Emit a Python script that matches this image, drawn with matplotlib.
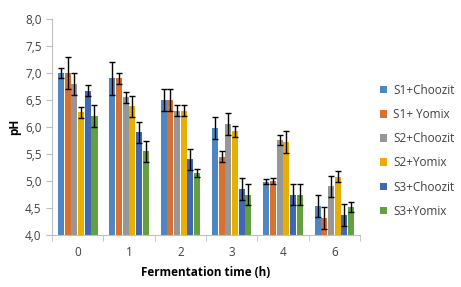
import matplotlib
matplotlib.use("Agg")
import matplotlib.pyplot as plt
import numpy as np

times = ["0", "1", "2", "3", "4", "6"]
series = ["S1+Choozit", "S1+ Yomix", "S2+Choozit", "S2+Yomix", "S3+Choozit", "S3+Yomix"]
colors = ["#4F86C2", "#D8702F", "#979797", "#E8AE00", "#4067B2", "#64A040"]

s1_choozit = [7.00, 6.90, 6.50, 5.98, 4.99, 4.54]
s1_yomix = [7.00, 6.90, 6.50, 5.45, 5.00, 4.31]
s2_choozit = [6.80, 6.55, 6.30, 6.05, 5.76, 4.90]
s2_yomix = [6.27, 6.38, 6.30, 5.92, 5.72, 5.08]
s3_choozit = [6.67, 5.90, 5.40, 4.85, 4.75, 4.37]
s3_yomix = [6.20, 5.55, 5.15, 4.75, 4.75, 4.52]

err_s1_choozit = [0.10, 0.30, 0.20, 0.20, 0.05, 0.20]
err_s1_yomix = [0.30, 0.10, 0.20, 0.10, 0.05, 0.20]
err_s2_choozit = [0.20, 0.10, 0.10, 0.20, 0.10, 0.20]
err_s2_yomix = [0.10, 0.20, 0.10, 0.10, 0.20, 0.10]
err_s3_choozit = [0.10, 0.20, 0.20, 0.20, 0.20, 0.20]
err_s3_yomix = [0.20, 0.20, 0.08, 0.20, 0.20, 0.10]

values = [s1_choozit, s1_yomix, s2_choozit, s2_yomix, s3_choozit, s3_yomix]
errors = [err_s1_choozit, err_s1_yomix, err_s2_choozit, err_s2_yomix, err_s3_choozit, err_s3_yomix]

plt.rcParams['font.family'] = ['Open Sans', 'DejaVu Sans']
txt = "#404040"

fig = plt.figure(figsize=(4.61, 2.87), dpi=100)
ax = fig.add_axes([0.113, 0.181, 0.668, 0.753])

x = np.arange(len(times))
w = 0.13
for i in range(len(series)):
    ax.bar(x + (i - 2.5) * w, values[i], w * 0.92, yerr=errors[i], color=colors[i],
           label=series[i], capsize=2.5, error_kw=dict(elinewidth=1, capthick=1, ecolor="black"))

ax.set_ylim(4.0, 8.0)
ax.set_xlim(-0.5, len(times) - 0.5)
ax.set_yticks(np.arange(4.0, 8.01, 0.5))
ax.set_yticklabels([f"{v:.1f}".replace(".", ",") for v in np.arange(4.0, 8.01, 0.5)])
ax.set_xticks(x)
ax.set_xticklabels(times)
ax.set_xticks(np.arange(-0.5, len(times), 1), minor=True)
ax.tick_params(axis="x", which="major", length=0, pad=8, labelsize=8.5, colors=txt)
ax.tick_params(axis="x", which="minor", length=4, color="#BFBFBF")
ax.tick_params(axis="y", length=4, color="#BFBFBF", labelsize=8.5, colors=txt)
for s in ["top", "right"]:
    ax.spines[s].set_visible(False)
for s in ["left", "bottom"]:
    ax.spines[s].set_color("#BFBFBF")

ax.set_xlabel("Fermentation time (h)", fontweight="bold", fontsize=8.5, color="black", labelpad=5)
ax.set_ylabel("pH", fontweight="bold", fontsize=8.5, color="black", labelpad=3)

ax.legend(loc="center left", bbox_to_anchor=(1.03, 0.39), frameon=False, fontsize=8.5,
          handlelength=0.6, handleheight=0.6, labelspacing=0.95, handletextpad=0.5,
          labelcolor=txt)

fig.savefig("out.png", dpi=100)
